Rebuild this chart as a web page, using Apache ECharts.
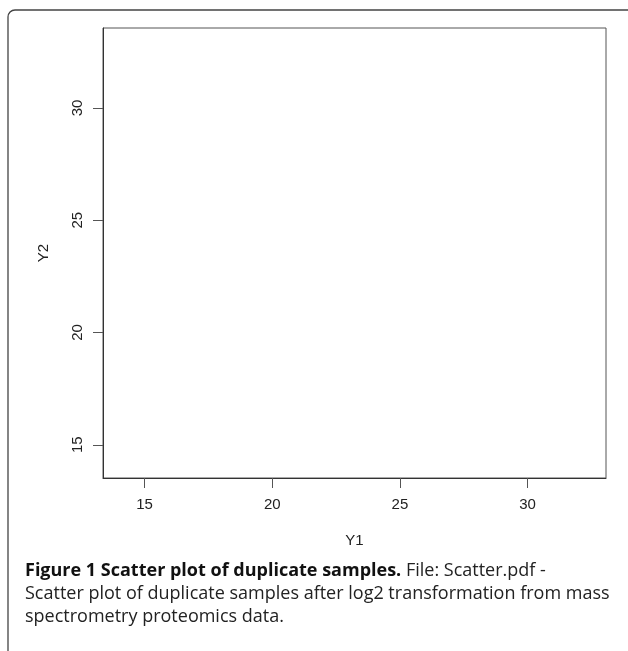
<!DOCTYPE html>
<html>
<head>
<meta charset="utf-8">
<script src="https://cdn.jsdelivr.net/npm/echarts@6/dist/echarts.min.js"></script>
<style>
html,body{margin:0;padding:0;background:#fff;}
#c{width:628px;height:651px;}
</style>
</head>
<body>
<div id="c"></div>
<script>
// Data (the reference plot area shows no visible points)
const y1Values = [];
const y2Values = [];
const xTickValues = [15, 20, 25, 30];
const yTickValues = [15, 20, 25, 30];
const xRange = [13.37, 33.07];
const yRange = [13.52, 33.56];
const xAxisTitle = 'Y1';
const yAxisTitle = 'Y2';
const captionBold = 'Figure 1 Scatter plot of duplicate samples.';
const captionRest = ' File: Scatter.pdf -';
const captionLine2 = 'Scatter plot of duplicate samples after log2 transformation from mass';
const captionLine3 = 'spectrometry proteomics data.';

const points = y1Values.map((v, i) => [v, y2Values[i]]);

const chart = echarts.init(document.getElementById('c'), null, {renderer: 'canvas'});
const axisFont = {fontFamily: 'Liberation Sans', fontSize: 15, color: '#222'};
chart.setOption({
  animation: false,
  backgroundColor: '#fff',
  grid: {left: 103, right: 22, top: 28, bottom: 173, show: true, borderColor: '#555', borderWidth: 1},
  xAxis: {
    type: 'value', min: xRange[0], max: xRange[1],
    name: xAxisTitle, nameLocation: 'middle', nameGap: 55,
    nameTextStyle: axisFont,
    axisLine: {show: true, onZero: false, lineStyle: {color: '#333', width: 1}},
    axisTick: {show: true, length: 10, customValues: xTickValues, lineStyle: {color: '#555'}},
    axisLabel: {show: true, margin: 19, customValues: xTickValues, ...axisFont},
    splitLine: {show: false}
  },
  yAxis: {
    type: 'value', min: yRange[0], max: yRange[1],
    name: yAxisTitle, nameLocation: 'middle', nameGap: 52, nameRotate: 90,
    nameTextStyle: axisFont,
    axisLine: {show: true, onZero: false, lineStyle: {color: '#333', width: 1}},
    axisTick: {show: true, length: 10, customValues: yTickValues, lineStyle: {color: '#555'}},
    axisLabel: {show: true, margin: 18, rotate: 90, customValues: yTickValues, ...axisFont},
    splitLine: {show: false}
  },
  series: [{type: 'scatter', data: points, symbolSize: 4, itemStyle: {color: '#000'}}],
  graphic: [
    {type: 'rect', shape: {x: 8, y: 10, width: 660, height: 700, r: 7},
     style: {fill: 'none', stroke: '#444', lineWidth: 1.3}, silent: true},
    {type: 'text', left: 25, top: 562,
     style: {
       text: '{b|' + captionBold + '}{r|' + captionRest + '}\n{r|' + captionLine2 + '}\n{r|' + captionLine3 + '}',
       rich: {
         b: {fontFamily: 'Open Sans', fontWeight: 'bold', fontSize: 18, lineHeight: 23, fill: '#111'},
         r: {fontFamily: 'Open Sans', fontSize: 18, lineHeight: 23, fill: '#222'}
       }
     }}
  ]
});
</script>
</body>
</html>
